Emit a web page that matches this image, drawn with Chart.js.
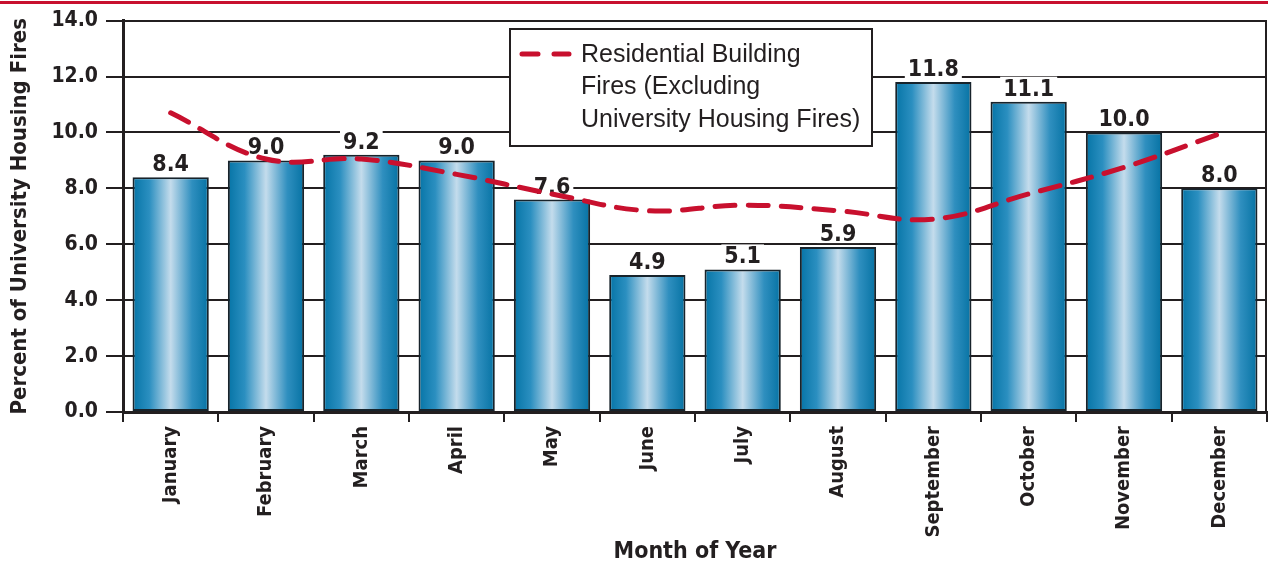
<!DOCTYPE html>
<html>
<head>
<meta charset="utf-8">
<script src="https://cdn.jsdelivr.net/npm/chart.js@4"></script>
<style>
  body { margin: 0; background: #fff; }
  canvas { display: block; }
</style>
</head>
<body>
<canvas id="fireChart" width="1268" height="567"></canvas>
<script>
// Chart values.
var months = ["January", "February", "March", "April", "May", "June", "July", "August", "September", "October", "November", "December"];
var universityHousing = [8.4, 9.0, 9.2, 9.0, 7.6, 4.9, 5.1, 5.9, 11.8, 11.1, 10.0, 8.0];
var residentialBuilding = [10.7, 9.05, 9.05, 8.5, 7.8, 7.2, 7.4, 7.2, 6.9, 7.8, 8.75, 9.95];
var yTicks = [0, 2, 4, 6, 8, 10, 12, 14];
var legendLines = ["Residential Building", "Fires (Excluding", "University Housing Fires)"];

var ink = "#231f20";
var red = "#c8102e";
var narrow = '"Liberation Sans Narrow", "Arial Narrow", "DejaVu Sans Condensed", sans-serif';
var plain = '"Liberation Sans", Arial, sans-serif';

// Each bar gets its own left-to-right shine.
function barGradient(ctx) {
  var chart = ctx.chart;
  if (!chart.chartArea || ctx.dataIndex === undefined) return "#1a86b8";
  var xScale = chart.scales.x;
  var center = xScale.getPixelForValue(ctx.dataIndex);
  var half = (chart.chartArea.width / months.length) * 0.8 / 2;
  var g = chart.ctx.createLinearGradient(center - half, 0, center + half, 0);
  g.addColorStop(0, "#0574a6");
  g.addColorStop(0.22, "#2b8fc0");
  g.addColorStop(0.5, "#c4dcec");
  g.addColorStop(0.78, "#2f8fbf");
  g.addColorStop(1, "#0572a3");
  return g;
}

// Red rule across the top plus right border of the plot.
var framePlugin = {
  id: "frame",
  beforeDraw: function (chart) {
    var c = chart.ctx;
    c.save();
    c.fillStyle = red;
    c.fillRect(0, 1, chart.width, 3);
    c.restore();
  },
  afterDraw: function (chart) {
    var a = chart.chartArea;
    var c = chart.ctx;
    c.save();
    c.strokeStyle = ink;
    c.lineWidth = 2;
    c.beginPath();
    c.moveTo(a.right - 1, a.top);
    c.lineTo(a.right - 1, a.bottom);
    c.stroke();
    c.restore();
  }
};

// Value labels over the bars, with a white patch so gridlines break round them.
var barLabelPlugin = {
  id: "barLabels",
  afterDatasetDraw: function (chart, args) {
    if (args.meta.type !== "bar") return;
    var c = chart.ctx;
    c.save();
    c.font = "bold 23px " + narrow;
    c.textAlign = "center";
    c.textBaseline = "alphabetic";
    args.meta.data.forEach(function (bar, i) {
      var text = universityHousing[i].toFixed(1);
      var w = c.measureText(text).width;
      var baseY = bar.y - 6;
      c.fillStyle = "#fff";
      c.fillRect(bar.x - w / 2 - 3, baseY - 19, w + 6, 21);
      c.fillStyle = ink;
      c.fillText(text, bar.x, baseY);
    });
    c.restore();
  }
};

// Boxed legend with a three line label.
var legendPlugin = {
  id: "boxLegend",
  afterDatasetsDraw: function (chart) {
    var c = chart.ctx;
    c.save();
    c.fillStyle = "#fff";
    c.fillRect(510, 29, 362, 117);
    c.strokeStyle = ink;
    c.lineWidth = 2;
    c.strokeRect(510, 29, 362, 117);
    c.strokeStyle = red;
    c.lineWidth = 5;
    c.lineCap = "round";
    c.beginPath();
    c.moveTo(522, 54);
    c.lineTo(538, 54);
    c.moveTo(554, 54);
    c.lineTo(569, 54);
    c.stroke();
    c.fillStyle = ink;
    c.font = "25px " + plain;
    c.textBaseline = "middle";
    c.textAlign = "left";
    legendLines.forEach(function (line, i) {
      c.fillText(line, 581, 55 + i * 32.5);
    });
    c.restore();
  }
};

var config = {
  data: {
    labels: months,
    datasets: [
      {
        type: "line",
        label: "Residential Building Fires (Excluding University Housing Fires)",
        data: residentialBuilding,
        borderColor: red,
        borderWidth: 5,
        borderDash: [20, 13],
        borderCapStyle: "round",
        pointRadius: 0,
        tension: 0.4,
        fill: false,
        order: 0
      },
      {
        type: "bar",
        label: "University Housing Fires",
        data: universityHousing,
        backgroundColor: barGradient,
        borderColor: "#17232b",
        borderWidth: 2,
        borderSkipped: false,
        categoryPercentage: 0.8,
        barPercentage: 1.0,
        order: 1
      }
    ]
  },
  options: {
    responsive: false,
    animation: false,
    devicePixelRatio: 1,
    layout: { padding: { top: 16, right: 1, left: 0, bottom: 0 } },
    plugins: {
      legend: { display: false },
      tooltip: { enabled: false }
    },
    scales: {
      x: {
        offset: true,
        grid: {
          display: true,
          offset: true,
          drawOnChartArea: false,
          drawTicks: true,
          tickLength: 10,
          color: ink,
          lineWidth: 2
        },
        border: { display: true, color: ink, width: 3 },
        ticks: {
          autoSkip: false,
          minRotation: 90,
          maxRotation: 90,
          padding: 4,
          color: ink,
          font: { family: narrow, size: 20, weight: "bold" }
        },
        title: {
          display: true,
          text: "Month of Year",
          color: ink,
          padding: { top: 0, bottom: 1 },
          font: { family: narrow, size: 23, weight: "bold" }
        },
        afterFit: function (scale) { scale.height = 155; }
      },
      y: {
        min: 0,
        max: 14,
        afterBuildTicks: function (scale) {
          scale.ticks = yTicks.map(function (v) { return { value: v }; });
        },
        grid: {
          color: ink,
          lineWidth: 2,
          tickLength: 17
        },
        border: { display: true, color: ink, width: 3 },
        ticks: {
          padding: 8,
          color: ink,
          font: { family: narrow, size: 21, weight: "bold" },
          callback: function (v) { return Number(v).toFixed(1); }
        },
        title: {
          display: true,
          text: "Percent of University Housing Fires",
          color: ink,
          padding: { top: 7, bottom: 0 },
          font: { family: narrow, size: 22, weight: "bold" }
        },
        afterFit: function (scale) { scale.width = 123; }
      }
    }
  },
  plugins: [framePlugin, barLabelPlugin, legendPlugin]
};

var fireChart = new Chart(document.getElementById("fireChart"), config);
</script>
</body>
</html>
